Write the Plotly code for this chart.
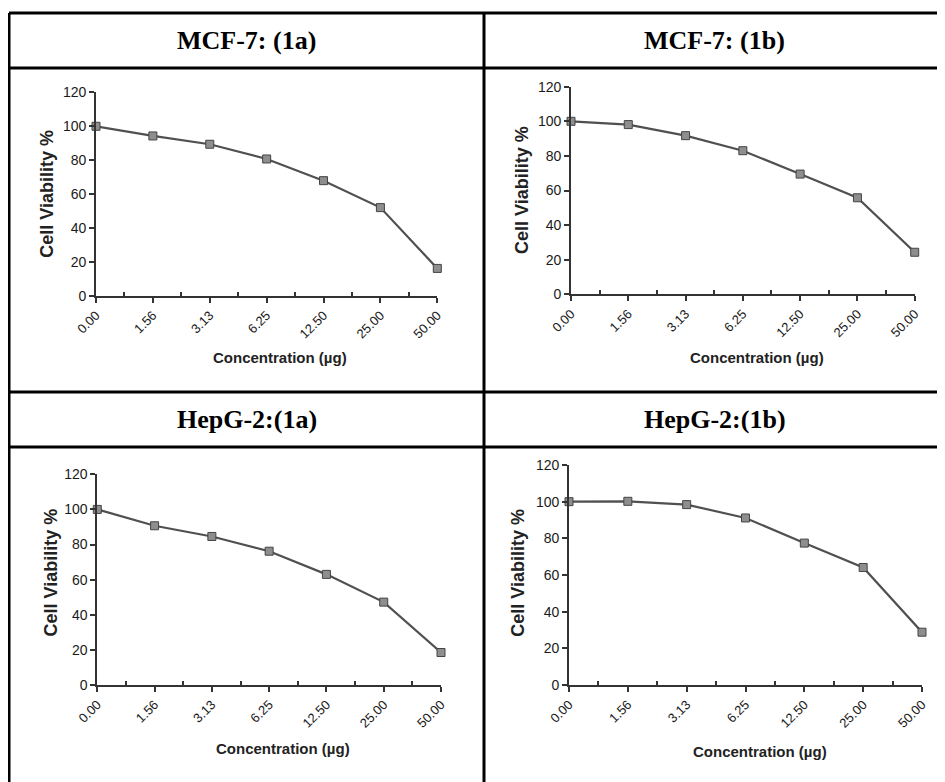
import plotly.graph_objects as go

W, H = 945, 782
OFF = 8  # page body margin offset compensation

categories = ["0.00", "1.56", "3.13", "6.25", "12.50", "25.00", "50.00"]
y_ticks = [0, 20, 40, 60, 80, 100, 120]

mcf7_1a = [100, 94.3, 89.4, 80.7, 67.9, 52.0, 16.1]
mcf7_1b = [100, 98.1, 91.7, 83.0, 69.5, 55.8, 24.3]
hepg2_1a = [100, 90.7, 84.6, 76.2, 63.0, 47.2, 18.5]
hepg2_1b = [100, 100.2, 98.4, 91.1, 77.4, 64.1, 28.8]

headers = ["MCF-7: (1a)", "MCF-7: (1b)", "HepG-2:(1a)", "HepG-2:(1b)"]
x_title = "Concentration (µg)"
y_title = "Cell Viability %"

series = [mcf7_1a, mcf7_1b, hepg2_1a, hepg2_1b]

# pixel boxes of plot areas: (x0, x1, ytop, ybottom)
boxes = [
    (96, 437.3, 92.4, 295.7),
    (571, 914.7, 86.7, 294.3),
    (97.3, 441, 474.3, 685),
    (569, 922, 465, 685),
]
# title positions (pixel): y-title x, y-title y, x-title x, x-title y
title_pos = [
    (46.7, 194, 280, 357.7),
    (522, 190, 757, 357.7),
    (50, 572.5, 283.3, 748.3),
    (517.7, 573, 760.3, 751),
]
header_pos = [(246.5, 40.5), (714.5, 40.5), (246.5, 419.5), (714.5, 419.5)]

def px(x):
    return (x - OFF) / W

def py(y):
    return 1 - (y - OFF) / H

fig = go.Figure()
layout = dict(
    template="none",
    width=W, height=H,
    margin=dict(l=0, r=0, t=0, b=0, pad=0),
    paper_bgcolor="white", plot_bgcolor="rgba(0,0,0,0)",
    showlegend=False,
    font=dict(family="Liberation Sans, Arial", color="#1a1a1a"),
)

xs = list(range(len(categories)))
annotations = []
shapes = []
for i, (vals, box) in enumerate(zip(series, boxes)):
    n = i + 1
    xa = "x" if n == 1 else f"x{n}"
    ya = "y" if n == 1 else f"y{n}"
    fig.add_trace(go.Scatter(
        x=xs, y=vals, xaxis=xa, yaxis=ya, mode="lines+markers",
        line=dict(color="#505050", width=2.2),
        marker=dict(symbol="square", size=8, color="#8e8e8e",
                    line=dict(color="#444444", width=1)),
        cliponaxis=False, hoverinfo="skip",
    ))
    x0, x1, yt, yb = box
    kx = "xaxis" if n == 1 else f"xaxis{n}"
    ky = "yaxis" if n == 1 else f"yaxis{n}"
    layout[kx] = dict(
        domain=[px(x0), px(x1)], range=[0, len(categories) - 1],
        anchor=ya, automargin=False,
        tickmode="array", tickvals=xs, ticktext=categories,
        tickangle=-45, ticks="outside", ticklen=5, tickwidth=1.5,
        tickcolor="#333", showline=True, linecolor="#333", linewidth=1.8,
        showgrid=False, zeroline=False,
        tickfont=dict(size=13, color="#1a1a1a"),
        minor=dict(ticks="inside", tickmode="linear", tick0=0.5, dtick=1,
                   ticklen=4, tickwidth=1.5, tickcolor="#333", showgrid=False),
    )
    layout[ky] = dict(
        domain=[py(yb), py(yt)], range=[0, 120], anchor=xa, automargin=False,
        tickmode="array", tickvals=y_ticks,
        ticks="outside", ticklen=5, tickwidth=1.5, tickcolor="#333",
        showline=True, linecolor="#333", linewidth=1.8,
        showgrid=False, zeroline=False,
        tickfont=dict(size=14, color="#1a1a1a"),
    )
    ytx, yty, xtx, xty = title_pos[i]
    annotations.append(dict(
        text=f"<b>{y_title}</b>", textangle=-90, x=px(ytx), y=py(yty),
        xref="paper", yref="paper", xanchor="center", yanchor="middle",
        showarrow=False, font=dict(size=18, color="#222")))
    annotations.append(dict(
        text=f"<b>{x_title}</b>", x=px(xtx), y=py(xty),
        xref="paper", yref="paper", xanchor="center", yanchor="middle",
        showarrow=False, font=dict(size=15, color="#222")))
    hx, hy = header_pos[i]
    annotations.append(dict(
        text=f"<b>{headers[i]}</b>", x=px(hx), y=py(hy),
        xref="paper", yref="paper", xanchor="center", yanchor="middle",
        showarrow=False, font=dict(size=26, color="black",
                                   family="Liberation Serif, Times New Roman")))

# table lines
lw = 3
for yline in (13, 68, 392, 447):
    shapes.append(dict(type="line", xref="paper", yref="paper",
                       x0=px(9), x1=1, y0=py(yline), y1=py(yline),
                       line=dict(color="black", width=lw)))
for xline in (9, 484):
    shapes.append(dict(type="line", xref="paper", yref="paper",
                       x0=px(xline), x1=px(xline), y0=py(13), y1=0,
                       line=dict(color="black", width=lw)))

layout["annotations"] = annotations
layout["shapes"] = shapes
fig.update_layout(**layout)
fig.write_html("out.html")
